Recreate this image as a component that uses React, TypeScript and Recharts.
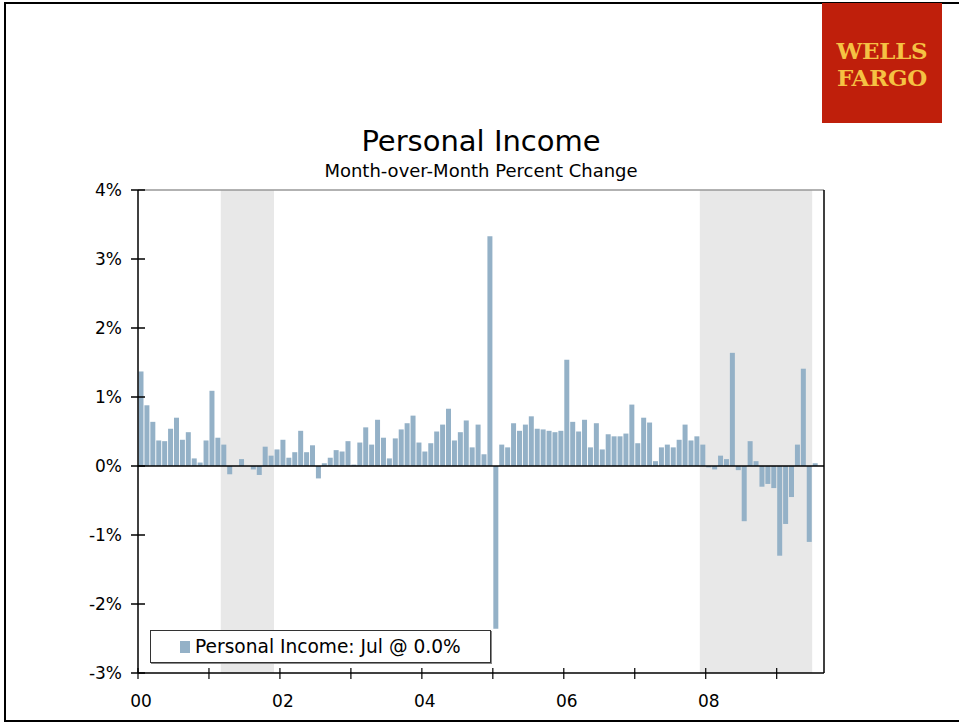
import React from 'react'
import { BarChart, Bar, XAxis, YAxis, ReferenceArea, ReferenceLine } from 'recharts'

// Monthly periods: Jan 2000 .. Aug 2009 (last slot is empty, as in the original)
const YEARS = ['00', '01', '02', '03', '04', '05', '06', '07', '08', '09']
const MONTHS = ['Jan', 'Feb', 'Mar', 'Apr', 'May', 'Jun', 'Jul', 'Aug', 'Sep', 'Oct', 'Nov', 'Dec']
const SLOT_COUNT = 116

// Personal income, month-over-month % change, Jan 2000 .. Jul 2009
const PERSONAL_INCOME = [
  1.37, 0.88, 0.64, 0.37, 0.36, 0.54, 0.70, 0.38, 0.49, 0.11, 0.05, 0.37,
  1.09, 0.41, 0.31, -0.12, 0.0, 0.10, 0.0, -0.05, -0.13, 0.28, 0.15, 0.24,
  0.38, 0.12, 0.20, 0.51, 0.20, 0.30, -0.18, 0.04, 0.12, 0.23, 0.21, 0.36,
  0.02, 0.34, 0.56, 0.31, 0.67, 0.41, 0.11, 0.40, 0.53, 0.62, 0.73, 0.34,
  0.21, 0.33, 0.50, 0.60, 0.83, 0.37, 0.49, 0.66, 0.27, 0.60, 0.17, 3.33,
  -2.36, 0.31, 0.27, 0.62, 0.51, 0.60, 0.72, 0.54, 0.53, 0.51, 0.49, 0.51,
  1.54, 0.64, 0.50, 0.67, 0.27, 0.62, 0.24, 0.46, 0.43, 0.43, 0.47, 0.89,
  0.33, 0.70, 0.63, 0.07, 0.27, 0.31, 0.27, 0.38, 0.60, 0.37, 0.43, 0.31,
  -0.02, -0.05, 0.15, 0.10, 1.64, -0.06, -0.80, 0.36, 0.07, -0.30, -0.26, -0.32,
  -1.30, -0.84, -0.45, 0.31, 1.41, -1.10, 0.04,
]

const RECESSIONS = [
  { from: 'Mar 01', to: 'Nov 01' },
  { from: 'Dec 07', to: 'Jun 09' },
]

const Y_TICKS = [-3, -2, -1, 0, 1, 2, 3, 4]
const LABELLED_YEARS = ['00', '02', '04', '06', '08']

const categories = YEARS.flatMap((y) => MONTHS.map((m) => `${m} ${y}`)).slice(0, SLOT_COUNT)
const data = categories.map((month, i) => ({ month, value: PERSONAL_INCOME[i] ?? null }))
const januaries = categories.filter((c) => c.startsWith('Jan'))

const W = 959
const H = 723
const MARGIN = { top: 190, right: 75, bottom: 10, left: 78 }
const Y_AXIS_W = 60
const PLOT_W = W - MARGIN.left - MARGIN.right - 2 * Y_AXIS_W
const BAND = PLOT_W / SLOT_COUNT

const FONT = "'DejaVu Sans', Verdana, sans-serif"
const BAR_COLOR = '#94b1c7'

function LeftTick({ x, y, payload }: any) {
  return (
    <g>
      <line x1={x - 7} x2={x + 7} y1={y} y2={y} stroke="#000" strokeWidth={1.5} />
      <text x={x - 16} y={y} dy={6} textAnchor="end" fontSize={17} fill="#000" fontFamily={FONT}>
        {payload.value}%
      </text>
    </g>
  )
}

function RightTick({ x, y, payload }: any) {
  return (
    <g>
      <line x1={x - 7} x2={x + 7} y1={y} y2={y} stroke="#000" strokeWidth={1.5} />
      <text x={x + 15} y={y} dy={6} textAnchor="start" fontSize={17} fill="#000" fontFamily={FONT}>
        {payload.value}%
      </text>
    </g>
  )
}

function YearTick({ x, y, payload }: any) {
  const x0 = x - BAND / 2
  const yr = String(payload.value).slice(4)
  return (
    <g>
      <line x1={x0} x2={x0} y1={y - 5} y2={y + 6} stroke="#000" strokeWidth={1.2} />
      {LABELLED_YEARS.includes(yr) && (
        <text x={x0 + 3} y={y + 34} textAnchor="middle" fontSize={17} fill="#000" fontFamily={FONT}>
          {yr}
        </text>
      )}
    </g>
  )
}

export default function App() {
  return (
    <div style={{ position: 'absolute', left: 0, top: 0, width: W, height: H, background: '#fff', fontFamily: FONT }}>
      <div
        style={{
          position: 'absolute', left: 4, top: 2, width: 955, height: 716,
          borderTop: '2px solid #000', borderLeft: '2px solid #000', borderBottom: '2px solid #000',
        }}
      />
      <div
        style={{
          position: 'absolute', left: 822, top: 3, width: 120, height: 120, background: '#bf1f0b',
          color: '#f5c243', fontFamily: "'DejaVu Serif', 'Liberation Serif', serif", fontWeight: 'bold',
          fontSize: 23, lineHeight: '27px', textAlign: 'center', letterSpacing: -0.3,
        }}
      >
        <div style={{ marginTop: 34 }}>WELLS</div>
        <div>FARGO</div>
      </div>
      <div style={{ position: 'absolute', left: 231, top: 124, width: 500, textAlign: 'center', fontSize: 29, lineHeight: '34px' }}>
        Personal Income
      </div>
      <div style={{ position: 'absolute', left: 231, top: 160, width: 500, textAlign: 'center', fontSize: 18, lineHeight: '21px' }}>
        Month-over-Month Percent Change
      </div>

      <BarChart width={W} height={H} data={data} margin={MARGIN} barCategoryGap={0.5}>
        {RECESSIONS.map((r) => (
          <ReferenceArea
            key={r.from}
            yAxisId="left"
            x1={r.from}
            x2={r.to}
            y1={-3}
            y2={4}
            fill="#e8e8e8"
            fillOpacity={1}
            stroke="none"
          />
        ))}
        <XAxis
          dataKey="month"
          ticks={januaries}
          interval={0}
          tickSize={0}
          tickMargin={0}
          height={40}
          stroke="#000"
          strokeWidth={1.5}
          tick={<YearTick />}
        />
        <YAxis
          yAxisId="left"
          domain={[-3, 4]}
          ticks={Y_TICKS}
          interval={0}
          width={Y_AXIS_W}
          tickSize={0}
          tickMargin={0}
          stroke="#000"
          strokeWidth={1.5}
          tick={<LeftTick />}
        />
        <YAxis
          yAxisId="right"
          orientation="right"
          domain={[-3, 4]}
          ticks={Y_TICKS}
          interval={0}
          width={Y_AXIS_W}
          tickSize={0}
          tickMargin={0}
          stroke="#000"
          strokeWidth={1.5}
          tick={<RightTick />}
        />
        <Bar yAxisId="left" dataKey="value" fill={BAR_COLOR} isAnimationActive={false} />
        <ReferenceLine yAxisId="left" y={4} stroke="#999" strokeWidth={1.5} />
        <ReferenceLine yAxisId="left" y={0} stroke="#000" strokeWidth={1.5} />
      </BarChart>

      <div
        style={{
          position: 'absolute', left: 150, top: 630, width: 339, height: 31, background: '#fff',
          border: '1px solid #333', boxShadow: '1px 1px 0 #888', display: 'flex', alignItems: 'center',
          fontSize: 18.6,
        }}
      >
        <span style={{ display: 'inline-block', width: 10, height: 12, background: BAR_COLOR, marginLeft: 29, marginRight: 5 }} />
        Personal Income: Jul @ 0.0%
      </div>
    </div>
  )
}
